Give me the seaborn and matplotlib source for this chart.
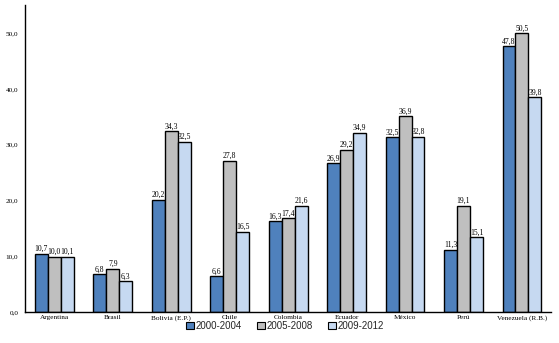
import matplotlib
matplotlib.use("Agg")
import matplotlib.pyplot as plt
import seaborn as sns
import pandas as pd
import numpy as np

paises = ["Argentina", "Brasil", "Bolivia (E.P.)", "Chile", "Colombia",
          "Ecuador", "México", "Perú", "Venezuela (R.B.)"]
periodos = ["2000-2004", "2005-2008", "2009-2012"]

# bar heights
v_2000 = [10.5, 6.8, 20.1, 6.4, 16.3, 26.7, 31.3, 11.2, 47.6]
v_2005 = [9.9, 7.8, 32.4, 27.1, 16.8, 29.1, 35.1, 19.1, 50.0]
v_2009 = [9.9, 5.5, 30.5, 14.4, 19.1, 32.1, 31.4, 13.4, 38.5]

# printed labels
lab_2000 = ["10,7", "6,8", "20,2", "6,6", "16,3", "26,9", "32,5", "11,3", "47,8"]
lab_2005 = ["10,0", "7,9", "34,3", "27,8", "17,4", "29,2", "36,9", "19,1", "50,5"]
lab_2009 = ["10,1", "6,3", "32,5", "16,5", "21,6", "34,9", "32,8", "15,1", "39,8"]

colores = ["#4F81BD", "#BFBFBF", "#C6D9F1"]

df = pd.DataFrame({
    "pais": paises * 3,
    "periodo": [p for p in periodos for _ in paises],
    "valor": v_2000 + v_2005 + v_2009,
})

sns.set_style("white")
fig = plt.figure(figsize=(5.59, 3.43), dpi=100)
ax = fig.add_axes([0.045, 0.09, 0.941, 0.895])

sns.barplot(data=df, x="pais", y="valor", hue="periodo", order=paises,
            hue_order=periodos, palette=colores, width=0.665,
            edgecolor="black", linewidth=1.0, saturation=1, ax=ax)

for cont, labs in zip(ax.containers, [lab_2000, lab_2005, lab_2009]):
    ax.bar_label(cont, labels=labs, padding=0.5, fontsize=5.5,
                 family="Liberation Serif", color="black")

ax.set_ylim(0, 55)
ax.set_xlim(-0.5, len(paises) - 0.5)
ax.set_yticks(np.arange(0, 51, 10))
ax.set_yticklabels(["{:.1f}".format(t).replace(".", ",") for t in np.arange(0, 51, 10)])
ax.set_xlabel("")
ax.set_ylabel("")

for s in ["top", "right"]:
    ax.spines[s].set_visible(False)
for s in ["left", "bottom"]:
    ax.spines[s].set_color("black")
    ax.spines[s].set_linewidth(1.0)

ax.tick_params(axis="y", length=0, pad=5, labelsize=5.2, labelcolor="black")
ax.tick_params(axis="x", which="major", length=0, pad=2, labelsize=5.2, labelcolor="black")
ax.set_xticks(np.arange(-0.5, len(paises)), minor=True)
ax.tick_params(axis="x", which="minor", direction="in", length=3, width=1, color="black")
for t in ax.get_xticklabels() + ax.get_yticklabels():
    t.set_family("Liberation Serif")

ax.legend_.remove()
handles = [plt.Rectangle((0, 0), 1, 1, facecolor=c, edgecolor="black", linewidth=0.8)
           for c in colores]
fig.legend(handles, periodos, loc="center", bbox_to_anchor=(0.51, 0.05), ncol=3,
           frameon=False, prop={"family": "Liberation Sans", "size": 7},
           handlelength=0.75, handleheight=0.75, handletextpad=0.2, columnspacing=1.6)

fig.savefig("out.png", dpi=100)
